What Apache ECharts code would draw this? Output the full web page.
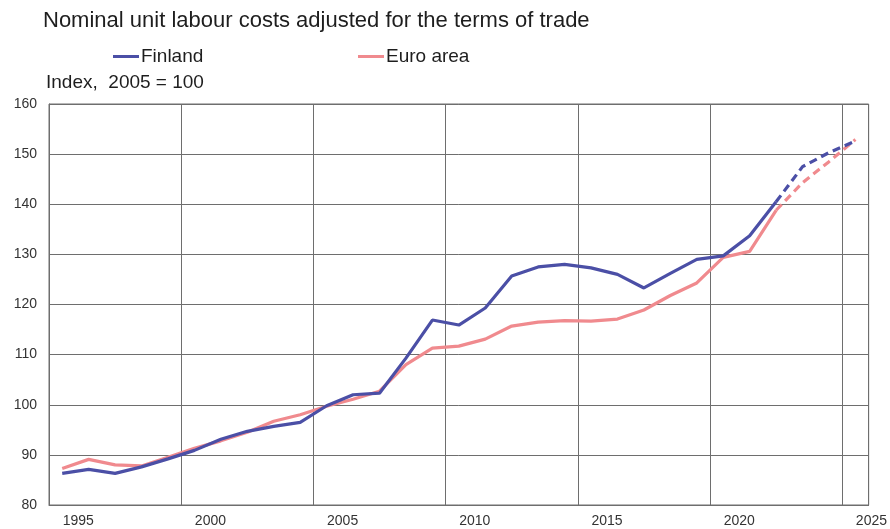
<!DOCTYPE html>
<html>
<head>
<meta charset="utf-8">
<script src="https://cdn.jsdelivr.net/npm/echarts@6/dist/echarts.min.js"></script>
<style>
html,body{margin:0;padding:0;background:#fff;}
#chart{width:890px;height:529px;}
</style>
</head>
<body>
<div id="chart"></div>
<script>
var years = ['1995','1996','1997','1998','1999','2000','2001','2002','2003','2004','2005','2006','2007','2008','2009','2010','2011','2012','2013','2014','2015','2016','2017','2018','2019','2020','2021','2022','2023','2024','2025'];
var finland = [86.3, 87.1, 86.3, 87.6, 89.2, 90.9, 93.1, 94.7, 95.7, 96.5, 99.8, 102.0, 102.3, 109.3, 116.9, 115.9, 119.3, 125.7, 127.5, 128.0, 127.3, 126.0, 123.3, 126.2, 129.0, 129.7, 133.7, 140.5, 147.5, 150.3, 152.6];
var euroArea = [87.3, 89.1, 88.0, 87.8, 89.5, 91.3, 92.8, 94.5, 96.7, 98.0, 99.7, 101.1, 102.7, 108.0, 111.3, 111.7, 113.1, 115.7, 116.5, 116.8, 116.7, 117.1, 118.9, 121.8, 124.3, 129.4, 130.6, 138.8, 144.3, 148.5, 152.9];
var forecastStart = '2022';
var yTicks = [80, 90, 100, 110, 120, 130, 140, 150, 160];

var fi = years.indexOf(forecastStart);
function solidPart(arr){ return arr.map(function(v,i){ return i <= fi ? v : null; }); }
function dashedPart(arr){ return arr.map(function(v,i){ return i >= fi ? v : null; }); }

var BLUE = '#4b4fa6', PINK = '#f08a8e', GRID = '#6e6e6e', FONT = 'Liberation Sans, Arial, sans-serif';

var chart = echarts.init(document.getElementById('chart'));
chart.setOption({
  animation: false,
  backgroundColor: '#fff',
  title: {
    text: 'Nominal unit labour costs adjusted for the terms of trade',
    left: 38, top: 5,
    textStyle: {fontSize: 22, fontWeight: 'normal', color: '#1e1e1e', fontFamily: FONT}
  },
  legend: [
    {data: ['Finland'], left: 108, top: 42, icon: 'rect', itemWidth: 26, itemHeight: 3,
     textStyle: {fontSize: 19, color: '#1e1e1e', fontFamily: FONT, padding: [0,0,0,-3]}},
    {data: ['Euro area'], left: 353, top: 42, icon: 'rect', itemWidth: 26, itemHeight: 3,
     textStyle: {fontSize: 19, color: '#1e1e1e', fontFamily: FONT, padding: [0,0,0,-3]}}
  ],
  graphic: [{
    type: 'text', left: 46, top: 73,
    style: {text: 'Index,  2005 = 100', fontSize: 19, fill: '#1e1e1e', fontFamily: FONT}
  }],
  grid: {left: 49, right: 21, top: 104, bottom: 24, show: true, borderColor: GRID, borderWidth: 1},
  xAxis: {
    type: 'category', data: years, boundaryGap: true,
    axisLine: {show: true, lineStyle: {color: GRID}},
    axisTick: {show: false},
    axisLabel: {interval: 4, fontSize: 14, color: '#333', fontFamily: FONT, margin: 9, padding: [0,0,0,32]},
    splitLine: {show: true, interval: 4, lineStyle: {color: GRID, width: 1}}
  },
  yAxis: {
    type: 'value', min: yTicks[0], max: yTicks[yTicks.length-1], interval: 10,
    axisLine: {show: true, lineStyle: {color: GRID}},
    axisTick: {show: false},
    axisLabel: {fontSize: 14, color: '#333', fontFamily: FONT, margin: 12},
    splitLine: {show: true, lineStyle: {color: GRID, width: 1}}
  },
  series: [
    {name: 'Finland', type: 'line', data: solidPart(finland), symbol: 'none', color: BLUE,
     lineStyle: {color: BLUE, width: 3.2}, z: 3},
    {name: 'Euro area', type: 'line', data: solidPart(euroArea), symbol: 'none', color: PINK,
     lineStyle: {color: PINK, width: 3.2}, z: 2},
    {name: 'Finland forecast', type: 'line', data: dashedPart(finland), symbol: 'none', color: BLUE,
     lineStyle: {color: BLUE, width: 3.2, type: [8, 5]}, z: 3},
    {name: 'Euro area forecast', type: 'line', data: dashedPart(euroArea), symbol: 'none', color: PINK,
     lineStyle: {color: PINK, width: 3.2, type: [8, 5]}, z: 2}
  ]
});
</script>
</body>
</html>
